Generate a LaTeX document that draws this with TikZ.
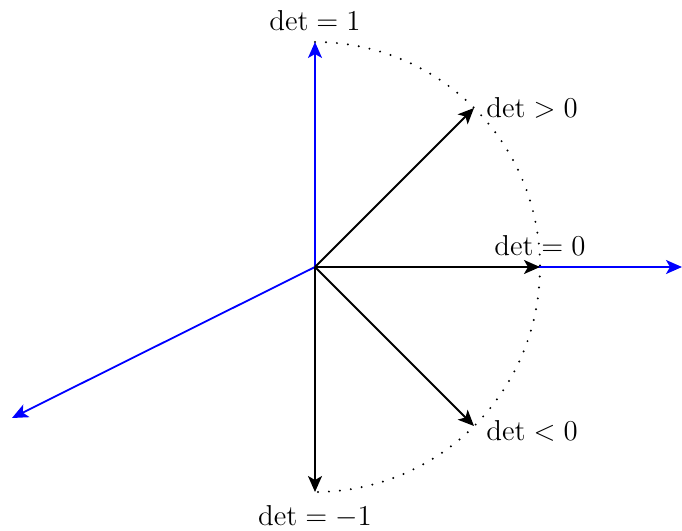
\documentclass[tikz,border=0pt]{standalone}
\usetikzlibrary{arrows.meta}
\begin{document}
\begin{tikzpicture}[x=0.5pt,y=-0.5pt,
  vec/.style={line width=0.9pt,-{Stealth[length=8pt,width=7pt,inset=2pt]}},
  bvec/.style={vec,blue},
  lbl/.style={inner sep=1pt,font=\fontsize{14}{16}\selectfont}]
\useasboundingbox (0,0) rectangle (682,531);
\coordinate (O) at (315,267);
\coordinate (U) at (315,42);
\coordinate (R) at (682,267);
\coordinate (L) at (12,418);
\coordinate (A) at (474,108);
\coordinate (B) at (540,267);
\coordinate (C) at (474,426);
\coordinate (D) at (315,492);
\draw[line width=1.1pt,line cap=round,dash pattern=on 0pt off 5.5pt] (U) arc[start angle=-90,end angle=90,radius=225];
\draw[bvec] (O) -- (U);
\draw[bvec] (O) -- (R);
\draw[bvec] (O) -- (L);
\draw[vec] (O) -- (A);
\draw[vec] (O) -- (B);
\draw[vec] (O) -- (C);
\draw[vec] (O) -- (D);
\node[lbl] (l1) at (315,20) {$\det = 1$};
\node[lbl,anchor=west] (l2) at (484,108) {$\det > 0$};
\node[lbl] (l3) at (540,245) {$\det = 0$};
\node[lbl,anchor=west] (l4) at (484,431) {$\det < 0$};
\node[lbl] (l5) at (315,517) {$\det = -1$};
\end{tikzpicture}
\end{document}
